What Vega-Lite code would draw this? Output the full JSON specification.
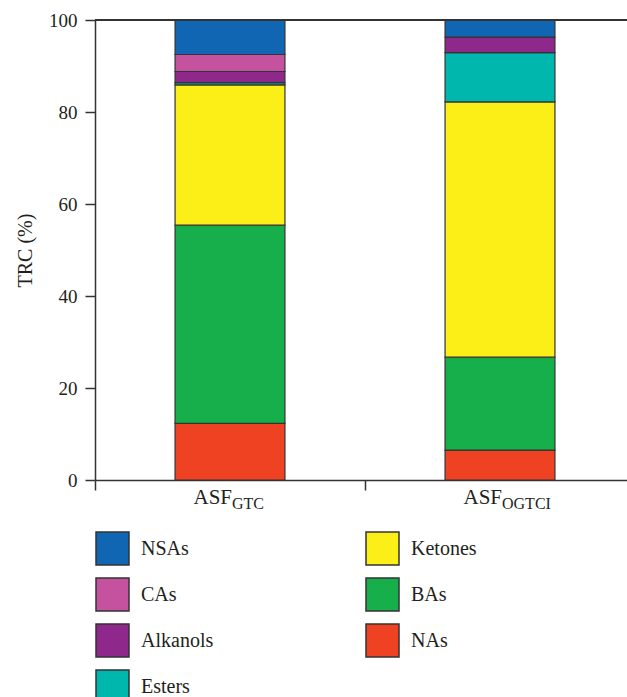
{
  "$schema": "https://vega.github.io/schema/vega-lite/v6.json",
  "width": 532,
  "height": 460,
  "autosize": {"type": "none"},
  "padding": {"left": 95, "top": 20, "right": 0, "bottom": 217},
  "background": "white",
  "config": {"view": {"stroke": null}, "font": "Liberation Serif"},
  "datasets": {
    "values": [
      {"sample": "GTC", "class": "NAs", "rank": 1, "value": 12.3},
      {"sample": "GTC", "class": "BAs", "rank": 2, "value": 43.1},
      {"sample": "GTC", "class": "Ketones", "rank": 3, "value": 30.5},
      {"sample": "GTC", "class": "Esters", "rank": 4, "value": 0.5},
      {"sample": "GTC", "class": "Alkanols", "rank": 5, "value": 2.4},
      {"sample": "GTC", "class": "CAs", "rank": 6, "value": 3.7},
      {"sample": "GTC", "class": "NSAs", "rank": 7, "value": 7.5},
      {"sample": "OGTCI", "class": "NAs", "rank": 1, "value": 6.5},
      {"sample": "OGTCI", "class": "BAs", "rank": 2, "value": 20.2},
      {"sample": "OGTCI", "class": "Ketones", "rank": 3, "value": 55.5},
      {"sample": "OGTCI", "class": "Esters", "rank": 4, "value": 10.7},
      {"sample": "OGTCI", "class": "Alkanols", "rank": 5, "value": 3.4},
      {"sample": "OGTCI", "class": "CAs", "rank": 6, "value": 0},
      {"sample": "OGTCI", "class": "NSAs", "rank": 7, "value": 3.7}
    ],
    "labels": [
      {"sample": "GTC", "main": "ASF", "sub": "GTC"},
      {"sample": "OGTCI", "main": "ASF", "sub": "OGTCI"}
    ]
  },
  "layer": [
    {
      "data": {"name": "values"},
      "mark": {"type": "bar", "stroke": "#333333", "strokeWidth": 1.2, "width": {"band": 0.407}},
      "encoding": {
        "x": {
          "field": "sample",
          "type": "nominal",
          "scale": {"domain": ["GTC", "OGTCI"], "range": [0, 540], "paddingInner": 0, "paddingOuter": 0},
          "axis": {
            "labels": false,
            "title": null,
            "tickBand": "extent",
            "tickSize": 10,
            "domainColor": "#333333",
            "tickColor": "#333333",
            "domainWidth": 1.5,
            "tickWidth": 1.5,
            "grid": false
          }
        },
        "y": {
          "field": "value",
          "type": "quantitative",
          "stack": "zero",
          "scale": {"domain": [0, 100], "nice": false},
          "axis": {
            "title": "TRC (%)",
            "titleFont": "Liberation Serif",
            "titleFontSize": 20,
            "titleFontWeight": "normal",
            "titleColor": "#231f20",
            "titlePadding": 13,
            "values": [0, 20, 40, 60, 80, 100],
            "labelFont": "Liberation Serif",
            "labelFontSize": 19,
            "labelColor": "#231f20",
            "labelPadding": 8,
            "tickSize": 10,
            "tickColor": "#333333",
            "tickWidth": 1.5,
            "domainColor": "#333333",
            "domainWidth": 1.5,
            "grid": false
          }
        },
        "order": {"field": "rank", "type": "quantitative", "sort": "ascending"},
        "color": {
          "field": "class",
          "type": "nominal",
          "scale": {
            "domain": ["NSAs", "CAs", "Alkanols", "Esters", "Ketones", "BAs", "NAs"],
            "range": ["#1066B2", "#C4529E", "#8E288A", "#00B7AE", "#FCEE17", "#17AF4B", "#EE4223"]
          },
          "legend": {
            "orient": "none",
            "legendX": 0,
            "legendY": 511,
            "columns": 2,
            "title": null,
            "padding": 0,
            "symbolType": "square",
            "symbolSize": 1089,
            "symbolStrokeColor": "#333333",
            "symbolStrokeWidth": 1.5,
            "symbolOpacity": 1,
            "labelFont": "Liberation Serif",
            "labelFontSize": 20,
            "labelColor": "#231f20",
            "labelOffset": 11,
            "rowPadding": 7,
            "columnPadding": 149
          }
        }
      }
    },
    {
      "data": {"values": [{"v": 100}]},
      "mark": {"type": "rule", "color": "#333333", "strokeWidth": 2},
      "encoding": {"y": {"field": "v", "type": "quantitative"}}
    },
    {
      "data": {"name": "labels"},
      "mark": {"type": "text", "align": "right", "baseline": "alphabetic", "dx": 2, "dy": 24, "fontSize": 21, "font": "Liberation Serif", "color": "#231f20"},
      "encoding": {
        "x": {"field": "sample", "type": "nominal"},
        "y": {"datum": 0, "type": "quantitative"},
        "text": {"field": "main"}
      }
    },
    {
      "data": {"name": "labels"},
      "mark": {"type": "text", "align": "left", "baseline": "alphabetic", "dx": 2, "dy": 29, "fontSize": 16, "font": "Liberation Serif", "color": "#231f20"},
      "encoding": {
        "x": {"field": "sample", "type": "nominal"},
        "y": {"datum": 0, "type": "quantitative"},
        "text": {"field": "sub"}
      }
    }
  ]
}
